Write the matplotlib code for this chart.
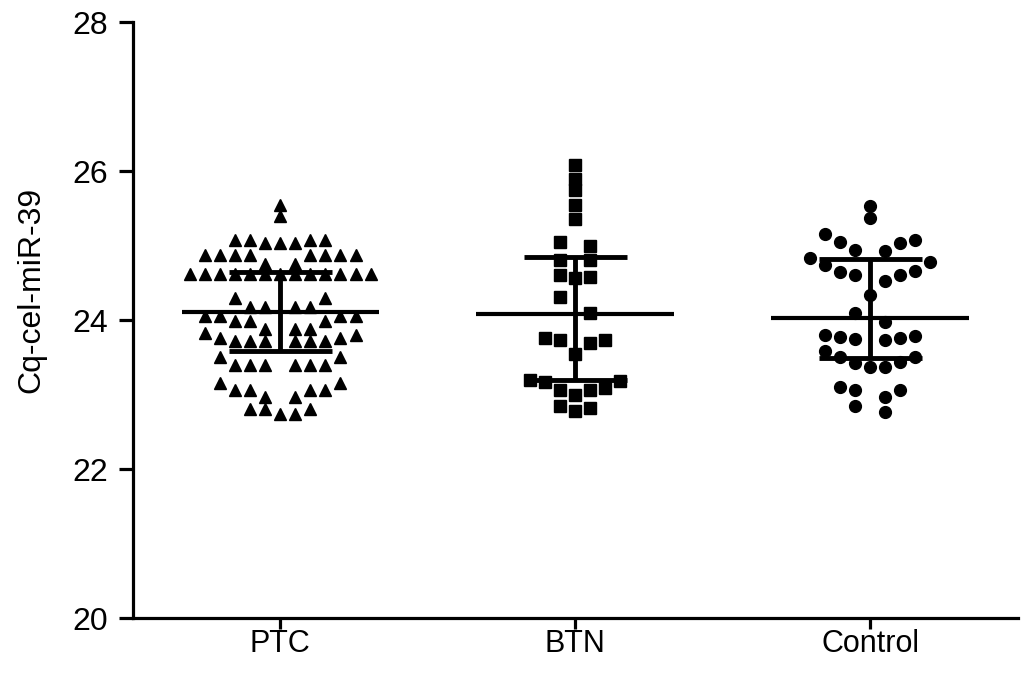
import numpy as np
import matplotlib.pyplot as plt

groups = ['PTC', 'BTN', 'Control']

# Cq values, one inner list per row of the dot plot
ptc_rows = [
    [25.55],
    [25.40],
    [25.08, 25.08, 25.08, 25.08, 25.03, 25.03, 25.03],
    [24.87, 24.87, 24.87, 24.87, 24.87, 24.87, 24.87, 24.87, 24.75, 24.75],
    [24.62, 24.62, 24.62, 24.62, 24.62, 24.62, 24.62, 24.62, 24.62, 24.62, 24.62, 24.62, 24.62],
    [24.30, 24.30, 24.17, 24.17, 24.17, 24.17],
    [24.06, 24.06, 24.06, 24.06, 23.99, 23.99, 23.99, 23.88, 23.88, 23.88],
    [23.83, 23.80, 23.76, 23.76, 23.72, 23.72, 23.72, 23.72, 23.72, 23.72],
    [23.51, 23.51, 23.40, 23.40, 23.40, 23.40, 23.40, 23.40],
    [23.15, 23.15, 23.06, 23.06, 23.06, 23.06, 22.97, 22.97],
    [22.81, 22.81, 22.81, 22.74, 22.74],
]
btn_rows = [
    [26.08],
    [25.89],
    [25.74],
    [25.54],
    [25.36],
    [25.05, 24.99],
    [24.80, 24.80],
    [24.60, 24.58, 24.56],
    [24.31, 24.09],
    [23.76, 23.73, 23.73, 23.69, 23.54],
    [23.20, 23.18, 23.17, 23.09, 23.06, 23.06, 22.99],
    [22.84, 22.82, 22.78],
]
ctrl_rows = [
    [25.53],
    [25.37],
    [25.15, 25.08, 25.05, 25.03, 24.94, 24.93],
    [24.83, 24.78, 24.74, 24.66, 24.65, 24.60, 24.60, 24.53],
    [24.34],
    [24.09, 23.98],
    [23.80, 23.78, 23.77, 23.76, 23.74, 23.73],
    [23.58, 23.50, 23.50, 23.44, 23.43, 23.37, 23.37],
    [23.10, 23.06, 23.06, 22.97],
    [22.84, 22.76],
]
all_rows = [ptc_rows, btn_rows, ctrl_rows]
markers = ['^', 's', 'o']
msizes = [9, 8, 8.5]

# mean line and error bar ends
centers = [24.11, 24.08, 24.03]
lows = [23.58, 23.19, 23.49]
highs = [24.64, 24.84, 24.82]


def row_x(vals, x0, step):
    # spread a row around x0, highest values go to the outside
    n = len(vals)
    if n % 2:
        slots = np.arange(n) - (n - 1) / 2
    else:
        half = np.arange(1, n // 2 + 1)
        slots = np.concatenate([-half[::-1], half])
    slots = slots[np.argsort(-np.abs(slots), kind='stable')]
    vals = np.sort(vals)[::-1]
    return x0 + slots * step, vals


plt.rcParams['font.family'] = ['Liberation Sans', 'DejaVu Sans']
fig = plt.figure(figsize=(10.30, 6.89), dpi=100)
ax = fig.add_axes([0.129, 0.103, 0.859, 0.865])

step = 0.051
for i, rows in enumerate(all_rows):
    x0 = i + 1
    for r in rows:
        xs, ys = row_x(r, x0, step)
        ax.plot(xs, ys, linestyle='none', marker=markers[i], ms=msizes[i],
                color='black', mec='black', clip_on=False)
    ax.hlines(centers[i], x0 - 0.335, x0 + 0.335, color='black', lw=3)
    ax.vlines(x0, lows[i], highs[i], color='black', lw=3.5)
    ax.hlines([lows[i], highs[i]], x0 - 0.175, x0 + 0.175, color='black', lw=3.5)

ax.set_xlim(0.5, 3.5)
ax.set_ylim(20, 28)
ax.set_yticks([20, 22, 24, 26, 28])
ax.set_xticks([1, 2, 3])
ax.set_xticklabels(groups, fontsize=22)
for lab in ax.get_yticklabels():
    lab.set_fontsize(23)
ax.set_ylabel('Cq-cel-miR-39', fontsize=23)
ax.yaxis.set_label_coords(-0.098, 0.55)

for s in ['top', 'right']:
    ax.spines[s].set_visible(False)
for s in ['left', 'bottom']:
    ax.spines[s].set_linewidth(2.3)
ax.tick_params(width=2.3)
ax.tick_params(axis='y', length=10, pad=8)
ax.tick_params(axis='x', length=8, pad=0)

fig.savefig('out.png', dpi=100)
